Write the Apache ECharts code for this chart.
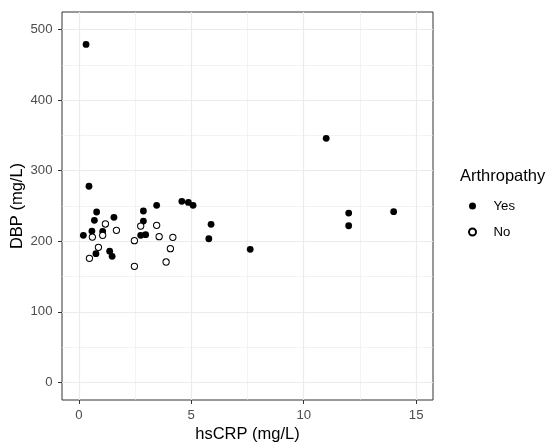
<!DOCTYPE html>
<html>
<head>
<meta charset="utf-8">
<script src="https://cdn.jsdelivr.net/npm/echarts@6/dist/echarts.min.js"></script>
<style>
  html, body { margin: 0; padding: 0; background: #fff; }
  #main { width: 550px; height: 448px; }
</style>
</head>
<body>
<div id="main"></div>
<script>
// data
const yesCrp = [0.32, 0.45, 0.20, 0.58, 0.69, 0.79, 0.76, 1.06, 1.37, 1.48, 1.56, 2.87, 2.87, 2.75, 2.97, 3.46, 4.58, 4.87, 5.08, 5.88, 5.78, 7.62, 11.0, 12.0, 12.0, 14.0]
const yesDbp = [479, 278, 208.5, 214.5, 229.7, 241.5, 182.4, 214, 186, 178.7, 234, 242.9, 228.7, 208.5, 209.3, 251, 256.6, 255, 251, 224, 203.6, 188.6, 346, 240, 222, 242]
const noCrp = [0.60, 0.47, 0.87, 1.06, 1.18, 1.67, 2.47, 2.47, 2.75, 3.46, 3.57, 3.88, 4.07, 4.18]
const noDbp = [206, 175.8, 191.4, 208.5, 224.5, 215.5, 200.8, 164.5, 221.6, 222.6, 206.5, 170.6, 189.5, 205.6]

const xTicks = [0, 5, 10, 15]
const xMinor = [2.5, 7.5, 12.5]
const yTicks = [0, 100, 200, 300, 400, 500]
const yMinor = [50, 150, 250, 350, 450]

const pairs = (xs, ys) => xs.map((x, i) => [x, ys[i]])

const font = 'Liberation Sans'
const grey92 = '#ebebeb'

const gridLines = [
  ...xMinor.map(v => ({ xAxis: v, lineStyle: { color: grey92, width: 0.6, type: 'solid' } })),
  ...yMinor.map(v => ({ yAxis: v, lineStyle: { color: grey92, width: 0.6, type: 'solid' } })),
  ...xTicks.map(v => ({ xAxis: v, lineStyle: { color: grey92, width: 1.2, type: 'solid' } })),
  ...yTicks.map(v => ({ yAxis: v, lineStyle: { color: grey92, width: 1.2, type: 'solid' } }))
]

var myChart = echarts.init(document.getElementById('main'), null, { renderer: 'canvas' })

myChart.setOption({
  animation: false,
  textStyle: { fontFamily: font },
  title: {
    text: 'Arthropathy',
    left: 460,
    top: 168,
    padding: 0,
    textStyle: { fontFamily: font, fontSize: 16.5, fontWeight: 'normal', color: '#000' }
  },
  legend: {
    orient: 'vertical',
    left: 468,
    top: 197,
    padding: 0,
    itemWidth: 32,
    itemHeight: 7,
    itemGap: 8,
    data: ['Yes', 'No'],
    textStyle: { fontFamily: font, fontSize: 13.2, color: '#000', lineHeight: 18 }
  },
  grid: {
    left: 62, right: 117, top: 12, bottom: 48,
    outerBoundsMode: 'none',
    containLabel: false,
    show: true,
    borderColor: '#333333',
    borderWidth: 1,
    backgroundColor: '#fff'
  },
  xAxis: {
    type: 'value',
    min: -0.75,
    max: 15.75,
    name: 'hsCRP (mg/L)',
    nameLocation: 'middle',
    nameGap: 25.5,
    nameMoveOverlap: false,
    nameTextStyle: { fontFamily: font, fontSize: 16.5, color: '#000' },
    axisLine: { show: false, onZero: false },
    splitLine: { show: false },
    axisTick: { show: true, inside: false, customValues: xTicks, length: 4, lineStyle: { color: '#333333' } },
    axisLabel: { customValues: xTicks, margin: 9, fontSize: 13.2, color: '#4d4d4d', fontFamily: font }
  },
  yAxis: {
    type: 'value',
    min: -25,
    max: 525,
    name: 'DBP (mg/L)',
    nameLocation: 'middle',
    nameGap: 36,
    nameMoveOverlap: false,
    nameTextStyle: { fontFamily: font, fontSize: 16.5, color: '#000' },
    axisLine: { show: false, onZero: false },
    splitLine: { show: false },
    axisTick: { show: true, inside: false, customValues: yTicks, length: 4, lineStyle: { color: '#333333' } },
    axisLabel: { customValues: yTicks, margin: 9.5, fontSize: 13.2, color: '#4d4d4d', fontFamily: font }
  },
  series: [
    {
      type: 'scatter',
      name: 'grid',
      data: [],
      silent: true,
      z: 1,
      markLine: {
        silent: true,
        z: 1,
        symbol: 'none',
        label: { show: false },
        animation: false,
        data: gridLines
      }
    },
    {
      type: 'scatter',
      name: 'Yes',
      z: 3,
      symbol: 'circle',
      symbolSize: 6.8,
      itemStyle: { color: '#000', opacity: 1 },
      data: pairs(yesCrp, yesDbp)
    },
    {
      type: 'scatter',
      name: 'No',
      z: 3,
      symbol: 'circle',
      symbolSize: 6.3,
      itemStyle: { color: '#fff', borderColor: '#000', borderWidth: 1, opacity: 1 },
      data: pairs(noCrp, noDbp)
    }
  ]
})
</script>
</body>
</html>
